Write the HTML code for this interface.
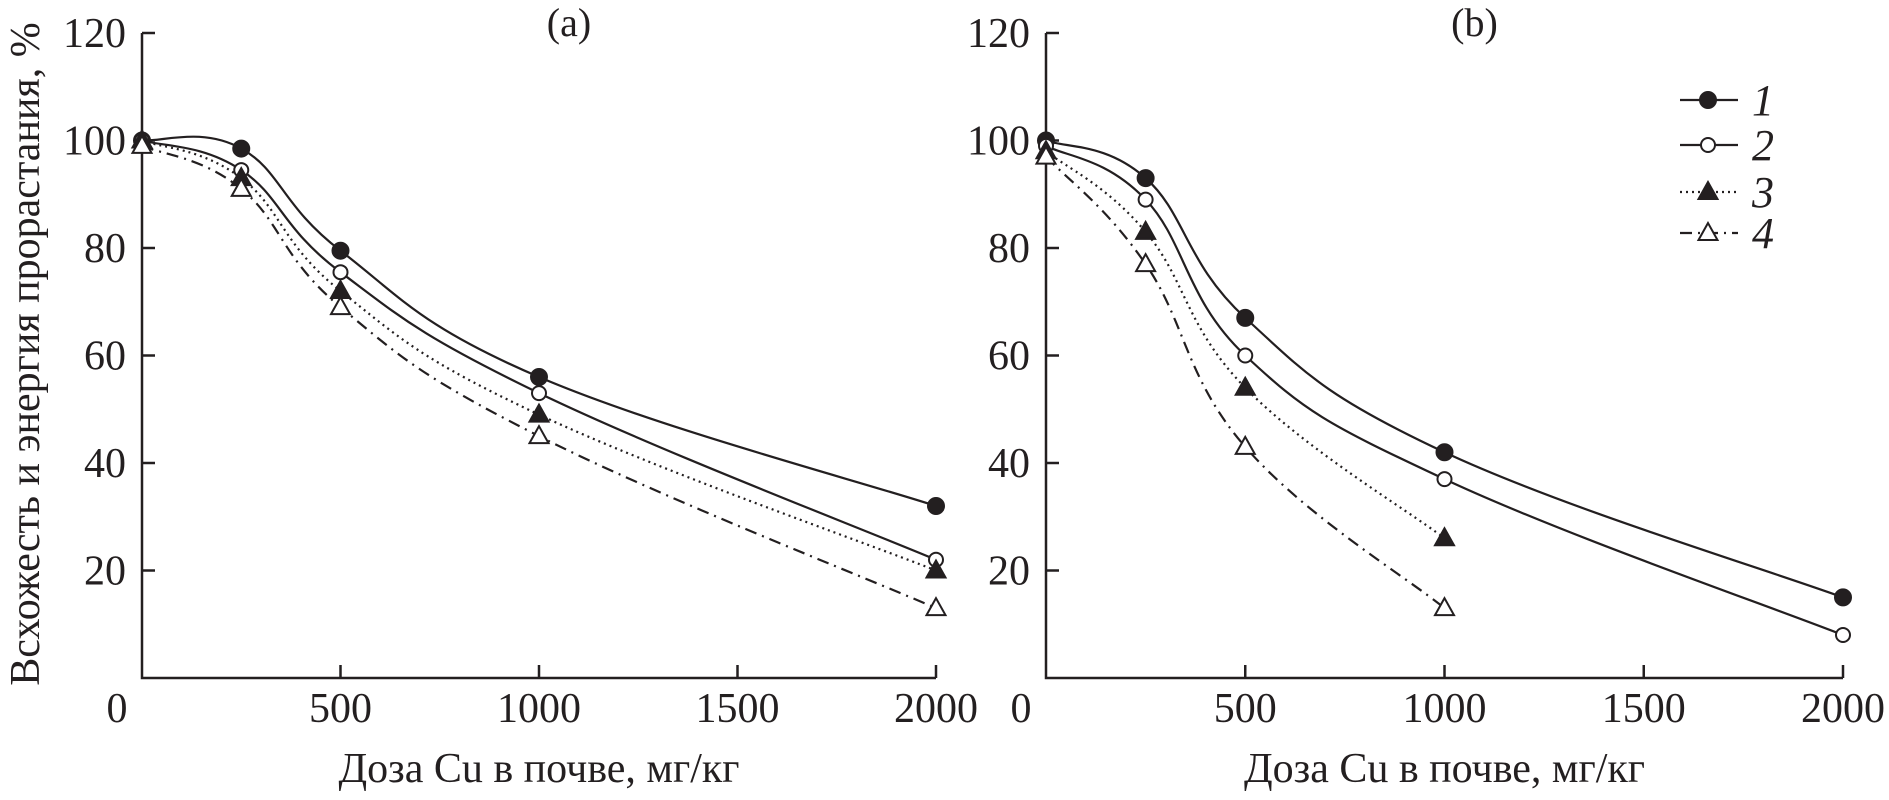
<!DOCTYPE html>
<html><head><meta charset="utf-8"><style>
html,body{margin:0;padding:0;background:#fff;}
text{font-family:"Liberation Serif","DejaVu Serif","Times New Roman",serif;fill:#231f20;}
</style></head><body>
<svg id="chart" width="1889" height="795" viewBox="0 0 1889 795" xmlns="http://www.w3.org/2000/svg" font-family="Liberation Serif, DejaVu Serif, serif"></svg>
<script>
const xTicks=[0,500,1000,1500,2000];
const yTicks=[20,40,60,80,100,120];
const dosesFull=[0,250,500,1000,2000];
const dosesShort=[0,250,500,1000];
const a1=[100,98.5,79.5,56,32];
const a2=[100,94.5,75.5,53,22];
const a3=[100,93,72,49,20];
const a4=[99,91,69,45,13];
const b1=[100,93,67,42,15];
const b2=[99,89,60,37,8];
const b3=[98,83,54,26];
const b4=[97,77,43,13];
const legendLabels=["1","2","3","4"];

const NS="http://www.w3.org/2000/svg";
const svg=document.getElementById('chart');
const FONT="'Liberation Serif', 'DejaVu Serif', serif";
function mk(tag,attrs,parent){const e=document.createElementNS(NS,tag);for(const k in attrs)e.setAttribute(k,attrs[k]);if(tag==='text'){e.setAttribute('font-family',FONT);e.style.fontFamily=FONT;}(parent||svg).appendChild(e);return e;}
const Y0=678,Y120=33;
function yS(v){return Y0-(v/120)*(Y0-Y120);}
const styles=[
 {dash:"",marker:"dot",fill:"#231f20"},
 {dash:"",marker:"circ",fill:"#fff"},
 {dash:"2,4",marker:"tri",fill:"#231f20"},
 {dash:"12,6,2,6",marker:"tri",fill:"#fff"}
];
function path(pts){
 let d="M"+pts[0][0]+","+pts[0][1];
 for(let i=0;i<pts.length-1;i++){
  const p0=pts[i-1]||pts[i],p1=pts[i],p2=pts[i+1],p3=pts[i+2]||p2;
  const t=0.2;
  d+=" C"+(p1[0]+(p2[0]-p0[0])*t)+","+(p1[1]+(p2[1]-p0[1])*t)+" "+(p2[0]-(p3[0]-p1[0])*t)+","+(p2[1]-(p3[1]-p1[1])*t)+" "+p2[0]+","+p2[1];
 }
 return d;
}
function marker(g,type,x,y,fill){
 let m;
 if(type==="dot"||type==="circ") m=mk('circle',{cx:x,cy:y,r:type==="dot"?8:7,fill:fill,stroke:"#231f20","stroke-width":2},g);
 else m=mk('polygon',{points:(x)+","+(y-10)+" "+(x-9.5)+","+(y+7)+" "+(x+9.5)+","+(y+7),fill:fill,stroke:"#231f20","stroke-width":2},g);
 
 
}
function panel(name,X0,X2000,title,series){
 const g=mk('g',{});
 
 
 const xS=v=>X0+(v/2000)*(X2000-X0);
 const ax=mk('path',{d:"M"+X0+","+Y120+" V"+Y0+" H"+X2000,fill:"none",stroke:"#231f20","stroke-width":2.5},g);
 
 yTicks.forEach(t=>{const y=yS(t);mk('line',{x1:X0,x2:X0+13,y1:y,y2:y,stroke:"#231f20","stroke-width":2.5},g);
  const tx=mk('text',{x:X0-16,y:y+14,"font-size":42,"text-anchor":"end"},g);tx.textContent=t;
  });
 xTicks.forEach(t=>{const x=xS(t);if(t>0)mk('line',{x1:x,x2:x,y1:Y0,y2:Y0-13,stroke:"#231f20","stroke-width":2.5},g);
  const tx=mk('text',{x:t===0?x-25:x,y:722,"font-size":42,"text-anchor":"middle"},g);tx.textContent=t;
  });
 const tt=mk('text',{x:(X0+X2000)/2+30,y:36,"font-size":40,"text-anchor":"middle"},g);tt.textContent=title;
 
 const xt=mk('text',{x:(X0+X2000)/2,y:782,"font-size":42,"text-anchor":"middle"},g);xt.textContent="Доза Cu в почве, мг/кг";
 
 series.forEach((s,i)=>{
  const pts=s.d.map((v,j)=>[xS(s.x[j]),yS(v)]);
  const p=mk('path',{d:path(pts),fill:"none",stroke:"#231f20","stroke-width":2.2,"stroke-dasharray":styles[i].dash},g);
  
  
  pts.forEach(q=>marker(g,styles[i].marker,q[0],q[1],styles[i].fill));
 });
}
panel('a',142,936,'(a)',[{x:dosesFull,d:a1},{x:dosesFull,d:a2},{x:dosesFull,d:a3},{x:dosesFull,d:a4}]);
panel('b',1046,1843,'(b)',[{x:dosesFull,d:b1},{x:dosesFull,d:b2},{x:dosesShort,d:b3},{x:dosesShort,d:b4}]);
const yl=mk('text',{x:0,y:0,"font-size":42,"text-anchor":"middle",transform:"translate(39,354) rotate(-90)"});
yl.textContent="Всхожесть и энергия прорастания, %";


const lg=mk('g',{});


const legY=[100,145,192,233];
legendLabels.forEach((l,i)=>{
 const e=mk('g',{},lg);
 
 
 mk('line',{x1:1680,x2:1738,y1:legY[i],y2:legY[i],stroke:"#231f20","stroke-width":2.2,"stroke-dasharray":styles[i].dash},e);
 marker(e,styles[i].marker,1708,legY[i],styles[i].fill);
 const t=mk('text',{x:1752,y:legY[i]+15,"font-size":44,"font-style":"italic"},e);t.textContent=l;
});
</script>
</body></html>
